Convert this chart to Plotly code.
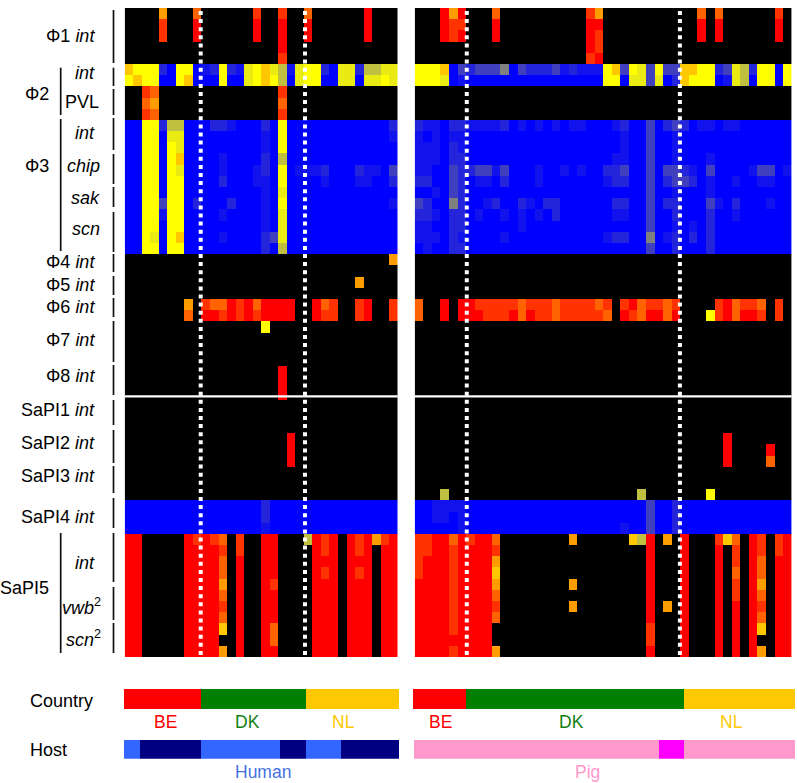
import plotly.graph_objects as go

W, H = 797, 783

# Cell level codes: '.' absent, B..Y blue-to-yellow, g..R yellow-to-red
CODE_VALUES = {".": -10, "B": 0, "a": 7, "b": 14, "c": 25, "d": 50, "e": 75, "y": 92, "Y": 100,
               "g": 122, "o": 139, "p": 161, "q": 180, "R": 200}

L0 = "." * 32
LEFT_ROWS = [
 ".... o... p... ...q ..q. .p.. .... R...",
 ".... q... R... ...R ..R. .R.. .... R...",
 ".... q... R... ...R ..R. .R.. .... R...",
 ".... .... .... .... ..R. .... .... ....",
 ".... .... .... .... ..q. .... .... ....",
 "gYYY bBYY BabY bayY gyea yYYb Byyb eeyy",
 "YgYY BBYg BBBY BByY gYeB yYYB ByyB yyYy",
 "..qp .... .... .... ..q. .... .... ....",
 "..po .... .... .... ..p. .... .... ....",
 "..qp .... .... .... ..q. .... .... ....",
 "BBYY beeB BBbb aBBB bBYB BBBB BBBB BBBb",
 "BBYY ByyB BBBB BBBB aBYB BBBB BBBB BBBa",
 "BBYY BYyB BBBB BBBB aBYB BBBB BBBB BBBB",
 "BBYY BYgB BBBa BBBB bBeB BBBB BBBB BBBB",
 "BBYY BYyB BBBa BBBa bBYB aaab BBBb aaBc",
 "BBYY BYYB BBBb BBBa aBYB BBBa BBBa aBBb",
 "BBYY BYYB BBBB BBBB aByB BBBB BBBB BBBB",
 "BBYY cYYB bBBB bBBB aBYB BBBB BBBB BBBa",
 "BBYY aYYB BBBa BBBB aByB BBBB BBBB BBBB",
 "BBYY BYYB BBBB BBBB aByB BBBB BBBB BBBB",
 "BBYy BYgB BBBa BBBB bcyB BBBB BBBB BBBB",
 "BBYY BYYB BBBB BBBB bBeB BBBB BBBB BBBB",
 ".... .... .... .... .... .... .... ...o",
 L0,
 ".... .... .... .... .... .... ...o ....",
 L0,
 ".... ...o .qpp RqRp RRRR ..Rp q..q R..q",
 ".... ...p .RRq RqRq RRRR ..Rq q..q R..q",
 ".... .... .... .... Y... .... .... ....",
 L0, L0, L0,
 ".... .... .... .... ..R. .... .... ....",
 ".... .... .... .... ..R. .... .... ....",
 ".... .... .... .... ..R. .... .... ....",
 L0, L0, L0,
 ".... .... .... .... ...R .... .... ....",
 ".... .... .... .... ...R .... .... ....",
 ".... .... .... .... ...R .... .... ....",
 L0, L0, L0,
 "BBBB BBBB BBBB BBBB bBBB BBBB BBBB BBBB",
 "BBBB BBBB BBBB BBBB bBBB BBBB BBBB BBBB",
 "BBBB BBBB BBBB BBBB aBBB BBBB BBBB BBBB",
 "RR.. ...R qRqp .q.. RR.. .eRq R.Rq RoqR",
 "RR.. ...R RRRq .q.. RR.. ..Rq R.Rq R.RR",
 "RR.. ...R RRRp .R.. RR.. ..RR R.RR R.RR",
 "RR.. ...R RRRp .R.. RR.. ..Rq R.Rq R.RR",
 "RR.. ...R RRRo .R.. Rq.. ..RR R.RR R.RR",
 "RR.. ...R RRRp .R.. RR.. ..RR R.RR R.RR",
 "RR.. ...R RRRq .R.. RR.. ..RR R.RR R.RR",
 "RR.. ...R RRRp .R.. RR.. ..RR R.RR R.RR",
 "RR.. ...R RRRg .R.. Rp.. ..RR R.RR R.RR",
 "RR.. ...R RRR. .R.. Rp.. ..RR R.RR R.RR",
 "RR.. ...R RRRo .R.. RR.. ..RR R.RR R.RR",
]

R0 = "." * 44
RIGHT_ROWS = [
 "...R oR.. .p.. .... .... qo.. .... .... .p.p .... ..q.",
 "...R qq.. .R.. .... .... RR.. .... .... .R.R .... ..R.",
 "...R qR.. .R.. .... .... Rq.. .... .... .R.R .... ..R.",
 ".... .... .... .... .... Rq.. .... .... .... .... ....",
 ".... .... .... .... .... qR.. .... .... .... .... ....",
 "YYYg Bcbc ccdB cbbb caba aaYg cYyc Yccg gYYb cyeb YYBY",
 "YYYy BaBB BBBB BBBB BBBB BBYY Byyc yBbg YYYB ayeB YYBY",
 R0, R0, R0,
 "baaB bbaa aabB aBaB aBaa BBBa bBBc Bbcb BaaB aaBB BBBB",
 "aBaB aaBB BBBB BBBB BBBB BBBB aBBc BBaB BBBB BBBB BBBB",
 "aaaB baBB BBBB BBBB BBBB BBBB aBBc BBaB BBBB BBBB BBBB",
 "aaaB bbBB BBBB BBBB BBBB BBBa aBBc BBaB BBaB BBBB BBBB",
 "aaBB cbbc cacB BBaB BaBa BBbb cBBc Bccb aBcB BBBa ccBa",
 "bbBB cbBa aBbB BBaB BBBB BBab bBBc Bbcc bBaB BaBB aaBB",
 "BBaB cbBB BBBB BBBB BBBB BBBB BBBc BBaB BBaB BBBB BBBB",
 "cbBB dbBB abBB baBb bBBB BBBb bBBc BbbB BBca BbBB BaBB",
 "bbaB bbBa BBaB aBaB bBBB BBBa aBBc BBbB BBbB BaBB BBBB",
 "aaBB bbBB BBBB aBBB BBBB BBBB BBBc BBaB aBbB BBBB BBBB",
 "aaaB baBB BBaB BBBB BBBB BBab bBBd BabB bBbB BBBB BBBB",
 "BaBB bbBB BBBB BBBB BBBB BBBB BBBc BBbB BBbB BBBB BBBB",
 R0, R0, R0, R0,
 "p..R .RRq qqqq pqqq pqqq qpq. qRpq qpq. ...q Rpqq p.q.",
 "p..R .RRR qqqR pRqq pqqq qqp. RqpR RpR. ..Yq RpRR q.q.",
 R0, R0, R0, R0, R0, R0, R0, R0, R0, R0,
 ".... .... .... .... .... .... .... .... .... R... ....",
 ".... .... .... .... .... .... .... .... .... R... .R..",
 ".... .... .... .... .... .... .... .... .... R... .p..",
 R0, R0,
 "...e .... .... .... .... .... ..e. .... ..Y. .... ....",
 "BBaa aaBB BBBB BBBB BBBB BBBB BBBc BBbB BBBB BBBB BBBB",
 "BBaa BaBB BBBB BBBB BBBB BBBB BBBc BBbB BBBB BBBB BBBB",
 "BBBB BaBB BBBB BBBB BBBB BBBB aBBc BBbB BBBB BBBB BBBB",
 "qqRR pRqR Rp.. .... ..o. .... .geR .o.R ...q gp.R q.qR",
 "qqRR qRRR Rq.. .... .... .... ...R ...R ...R .q.R q.qR",
 "qRRR qRRR Ro.. .... .... .... ...R ...R ...R .q.R p.RR",
 "qRRR qRRR Rg.. .... .... .... ...R ...R ...R .p.R p.RR",
 "RRRR qRRR Ro.. .... ..o. .... ...R ...R ...R .q.R o.RR",
 "RRRR qRRR Rp.. .... .... .... ...R ...R ...R .q.R p.RR",
 "RRRR qRRR Rq.. .... ..o. .... ...R .o.R ...R .R.R q.RR",
 "RRRR qRRR Rp.. .... .... .... ...R ...R ...R .R.R p.RR",
 "RRRR qRRR R... .... .... .... ...q ...R ...R .R.R g.RR",
 "RRRR RRRR R... .... .... .... ...q ...R ...R .R.R ..RR",
 "RRRR qRRR Ro.. .... .... .... ...R ...R ...R .R.R o.RR",
]

COUNTRY_COLORS = ["#ff0000", "#008000", "#ffc800"]
COUNTRY_LEFT = [9.0, 12.3, 11.0]
COUNTRY_RIGHT = [6.25, 25.5, 13.05]
HOST_LEFT = [1.9, 7.1, 9.3, 3.0, 4.2, 6.8]
HOST_LEFT_COLORS = ["#3366ff", "#000080", "#3366ff", "#000080", "#3366ff", "#000080"]
HOST_RIGHT = [28.7, 3.0, 13.0]
HOST_RIGHT_COLORS = ["#ff99cc", "#ff00ff", "#ff99cc"]


def decode(rows):
    return [[CODE_VALUES[ch] for ch in r.replace(" ", "")] for r in rows]


def dx(a, b):
    return [a / W, b / W]


def dy(top, bottom):
    return [1 - bottom / H, 1 - top / H]


def py(v):
    return 1 - v / H


def px(v):
    return v / W


ZMIN, ZMAX = -10, 200
def stop(z):
    return (z - ZMIN) / (ZMAX - ZMIN)


SCALE = [[0, "#000000"], [stop(-0.1), "#000000"], [stop(0), "#0000ff"], [stop(100), "#ffff00"], [stop(200), "#ff0000"]]

HEAT_TOP, HEAT_BOTTOM = 8, 657
LEFT_X = (124.7, 397.7)
RIGHT_X = (414.7, 791.6)

fig = go.Figure()
for rows, xa, ya in [(LEFT_ROWS, "x", "y"), (RIGHT_ROWS, "x2", "y2")]:
    fig.add_trace(go.Heatmap(z=decode(rows), zmin=ZMIN, zmax=ZMAX, colorscale=SCALE, showscale=False,
                             xaxis=xa, yaxis=ya, hoverinfo="skip", xgap=0, ygap=0))


def add_strip(widths, colors, xa, ya):
    for w, c in zip(widths, colors):
        fig.add_trace(go.Bar(x=[w], y=[0], orientation="h", width=1, marker=dict(color=c, line=dict(width=0)),
                             xaxis=xa, yaxis=ya, showlegend=False, hoverinfo="skip"))


add_strip(COUNTRY_LEFT, COUNTRY_COLORS, "x3", "y3")
add_strip(COUNTRY_RIGHT, COUNTRY_COLORS, "x4", "y4")
add_strip(HOST_LEFT, HOST_LEFT_COLORS, "x5", "y5")
add_strip(HOST_RIGHT, HOST_RIGHT_COLORS, "x6", "y6")

hidden = dict(visible=False, showgrid=False, zeroline=False, fixedrange=True)
layout = dict(
    width=W, height=H, margin=dict(l=0, r=0, t=0, b=0), autosize=False,
    paper_bgcolor="white", plot_bgcolor="white", barmode="stack", showlegend=False,
    xaxis=dict(hidden, domain=dx(*LEFT_X), range=[-0.5, 31.5]),
    yaxis=dict(hidden, domain=dy(HEAT_TOP, HEAT_BOTTOM), range=[57.5, -0.5]),
    xaxis2=dict(hidden, domain=dx(*RIGHT_X), range=[-0.5, 43.5]),
    yaxis2=dict(hidden, domain=dy(HEAT_TOP, HEAT_BOTTOM), range=[57.5, -0.5]),
    xaxis3=dict(hidden, domain=dx(124, 399.3), range=[0, sum(COUNTRY_LEFT)]),
    yaxis3=dict(hidden, domain=dy(689, 709), range=[-0.5, 0.5]),
    xaxis4=dict(hidden, domain=dx(412.7, 795), range=[0, sum(COUNTRY_RIGHT)]),
    yaxis4=dict(hidden, domain=dy(689, 709), range=[-0.5, 0.5]),
    xaxis5=dict(hidden, domain=dx(124, 399.3), range=[0, sum(HOST_LEFT)]),
    yaxis5=dict(hidden, domain=dy(739.7, 758.7), range=[-0.5, 0.5]),
    xaxis6=dict(hidden, domain=dx(413.7, 795.3), range=[0, sum(HOST_RIGHT)]),
    yaxis6=dict(hidden, domain=dy(739.7, 758.7), range=[-0.5, 0.5]),
)
fig.update_layout(**layout)

# Dotted country separators, given in cell units of each panel
for xref, xv in [("x", 8.41), ("x", 20.63), ("x2", 5.58), ("x2", 30.46)]:
    fig.add_shape(type="line", xref=xref, yref="paper", x0=xv, x1=xv, y0=py(11), y1=py(657),
                  line=dict(color="white", width=4, dash="4px,4.1px"), layer="above")

# White separator between the phage and SaPI blocks
for a, b in (LEFT_X, RIGHT_X):
    fig.add_shape(type="line", xref="paper", yref="paper", x0=px(a), x1=px(b), y0=py(396.3), y1=py(396.3),
                  line=dict(color="white", width=2.2), layer="above")

# Bracket segments beside the labels
OUTER_SEGMENTS = [(10, 63), (67.7, 86), (89, 115), (118, 150), (154, 184), (187, 207), (212, 252), (254, 272),
                  (276, 295), (298, 317), (321, 362), (365, 395), (400, 425), (430, 463), (466, 493), (498, 528),
                  (533, 582), (587, 620), (623, 653)]
INNER_SEGMENTS = [(67.7, 115), (119, 251), (533, 653)]
for segs, xp in [(OUTER_SEGMENTS, 113.5), (INNER_SEGMENTS, 60.7)]:
    for t, b in segs:
        fig.add_shape(type="line", xref="paper", yref="paper", x0=px(xp), x1=px(xp), y0=py(t), y1=py(b),
                      line=dict(color="#111111", width=1.7))

FONT = "Liberation Sans, Arial, sans-serif"
ROW_LABELS = [
    ("Φ1 <i>int</i>", 97, 36), ("<i>int</i>", 97, 73), ("PVL", 101, 102), ("Φ2", 51, 94),
    ("<i>int</i>", 97, 133), ("<i>chip</i>", 101.5, 166), ("Φ3", 51, 166), ("<i>sak</i>", 101.5, 198),
    ("<i>scn</i>", 101.5, 229), ("Φ4 <i>int</i>", 97, 262), ("Φ5 <i>int</i>", 97, 285),
    ("Φ6 <i>int</i>", 97, 307), ("Φ7 <i>int</i>", 97, 340), ("Φ8 <i>int</i>", 97, 376),
    ("SaPI1 <i>int</i>", 97, 410), ("SaPI2 <i>int</i>", 97, 443), ("SaPI3 <i>int</i>", 97, 476),
    ("SaPI4 <i>int</i>", 97, 517), ("SaPI5", 51, 588), ("<i>int</i>", 97, 563),
    ("<i>vwb</i><sup>2</sup>", 102.5, 606), ("<i>scn</i><sup>2</sup>", 102.5, 638),
    ("Country", 95, 701), ("Host", 69, 750),
]
for text, xr, yc in ROW_LABELS:
    fig.add_annotation(text=text, xref="paper", yref="paper", x=px(xr), y=py(yc), xanchor="right", yanchor="middle",
                       showarrow=False, font=dict(family=FONT, size=18, color="#000000"))

GROUP_LABELS = [
    ("BE", 165, 722, "#ff0000"), ("DK", 247, 722, "#108010"), ("NL", 343, 722, "#ffc800"),
    ("BE", 441, 722, "#ff0000"), ("DK", 571, 722, "#108010"), ("NL", 731, 722, "#ffc800"),
    ("Human", 263, 772, "#4472e0"), ("Pig", 587, 772, "#ff99cc"),
]
for text, xc, yc, col in GROUP_LABELS:
    fig.add_annotation(text=text, xref="paper", yref="paper", x=px(xc), y=py(yc), xanchor="center", yanchor="middle",
                       showarrow=False, font=dict(family=FONT, size=17.5, color=col))

fig.write_html("out.html", config=dict(displayModeBar=False),
               post_script="document.body.style.margin='0';document.documentElement.style.overflow='hidden';")
